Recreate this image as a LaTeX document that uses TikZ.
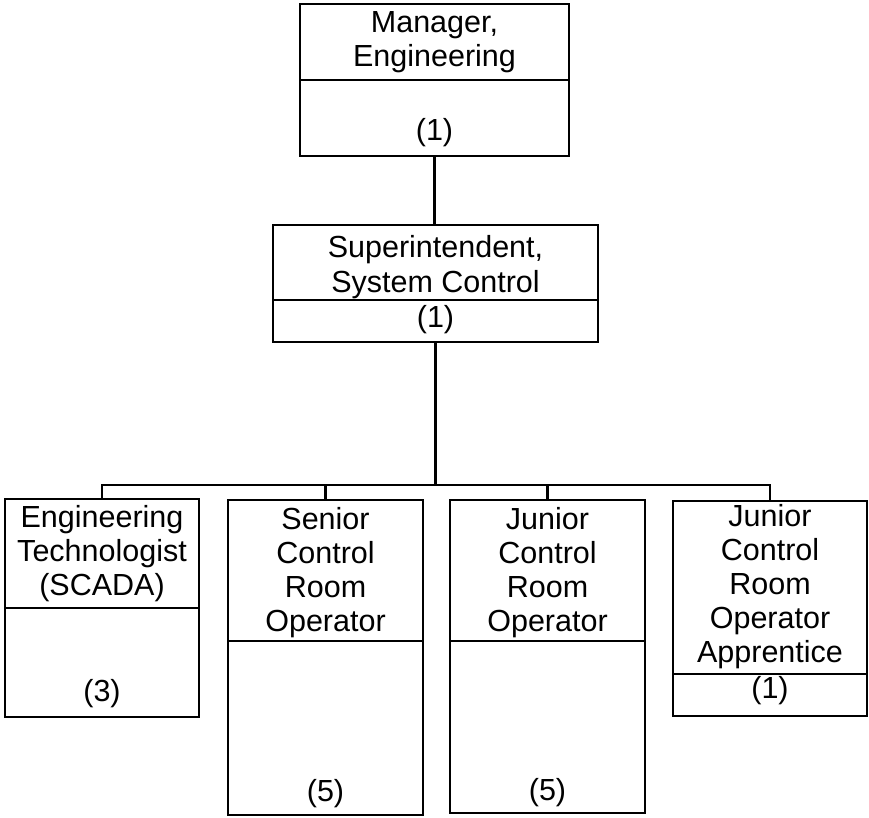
\documentclass[tikz,border=0pt]{standalone}
\usepackage{fontspec}
\setmainfont{Liberation Sans}
\newcommand{\stk}[1]{\begin{tabular}[t]{@{}c@{}}#1\end{tabular}}
\begin{document}
\begin{tikzpicture}[x=1pt,y=-1pt,
  boxpart/.style={draw, line width=2.2pt, inner sep=0pt, outer sep=0pt},
  txt/.style={anchor=base, inner sep=0pt, font=\fontsize{30.5}{34}\selectfont},
  conn/.style={line width=2.2pt}]
\useasboundingbox (0,0) rectangle (869,818);
% Manager
\node[boxpart, minimum width=269pt, minimum height=76pt] (mgr) at (434.5,42) {};
\node[boxpart, minimum width=269pt, minimum height=76pt] (mgrn) at (434.5,118) {};
\node[txt] (mgrt) at (434.5,33) {\stk{Manager,\\Engineering}};
\node[txt] (mgrc) at (434.5,141) {(1)};
% Superintendent
\node[boxpart, minimum width=325pt, minimum height=75pt] (sup) at (435.5,262.5) {};
\node[boxpart, minimum width=325pt, minimum height=42pt] (supn) at (435.5,321) {};
\node[txt] (supt) at (435.5,258) {\stk{Superintendent,\\System Control}};
\node[txt] (supc) at (435.5,327) {(1)};
% Engineering Technologist
\node[boxpart, minimum width=194pt, minimum height=109pt] (eng) at (102,553.5) {};
\node[boxpart, minimum width=194pt, minimum height=109pt] (engn) at (102,662.5) {};
\node[txt] (engt) at (102,527) {\stk{Engineering\\Technologist\\(SCADA)}};
\node[txt] (engc) at (102,701) {(3)};
% Senior
\node[boxpart, minimum width=195pt, minimum height=141pt] (sen) at (325.5,570.5) {};
\node[boxpart, minimum width=195pt, minimum height=174pt] (senn) at (325.5,728) {};
\node[txt] (sent) at (325.5,529) {\stk{Senior\\Control\\Room\\Operator}};
\node[txt] (senc) at (325.5,801) {(5)};
% Junior
\node[boxpart, minimum width=195pt, minimum height=141pt] (jun) at (547.5,570.5) {};
\node[boxpart, minimum width=195pt, minimum height=172pt] (junn) at (547.5,727) {};
\node[txt] (junt) at (547.5,529) {\stk{Junior\\Control\\Room\\Operator}};
\node[txt] (junc) at (547.5,800) {(5)};
% Apprentice
\node[boxpart, minimum width=194pt, minimum height=173pt] (app) at (770,587.5) {};
\node[boxpart, minimum width=194pt, minimum height=42pt] (appn) at (770,695) {};
\node[txt] (appt) at (770,526) {\stk{Junior\\Control\\Room\\Operator\\Apprentice}};
\node[txt] (appc) at (770,698) {(1)};
% connectors
\coordinate (bus) at (435.5,485);
\draw[conn] (mgrn.south) -- (mgrn.south |- sup.north);
\draw[conn] (supn.south) -- (bus);
\draw[conn] (eng.north) |- (bus) -| (app.north);
\draw[conn] (sen.north) -- (sen.north |- bus);
\draw[conn] (jun.north) -- (jun.north |- bus);
\end{tikzpicture}
\end{document}
